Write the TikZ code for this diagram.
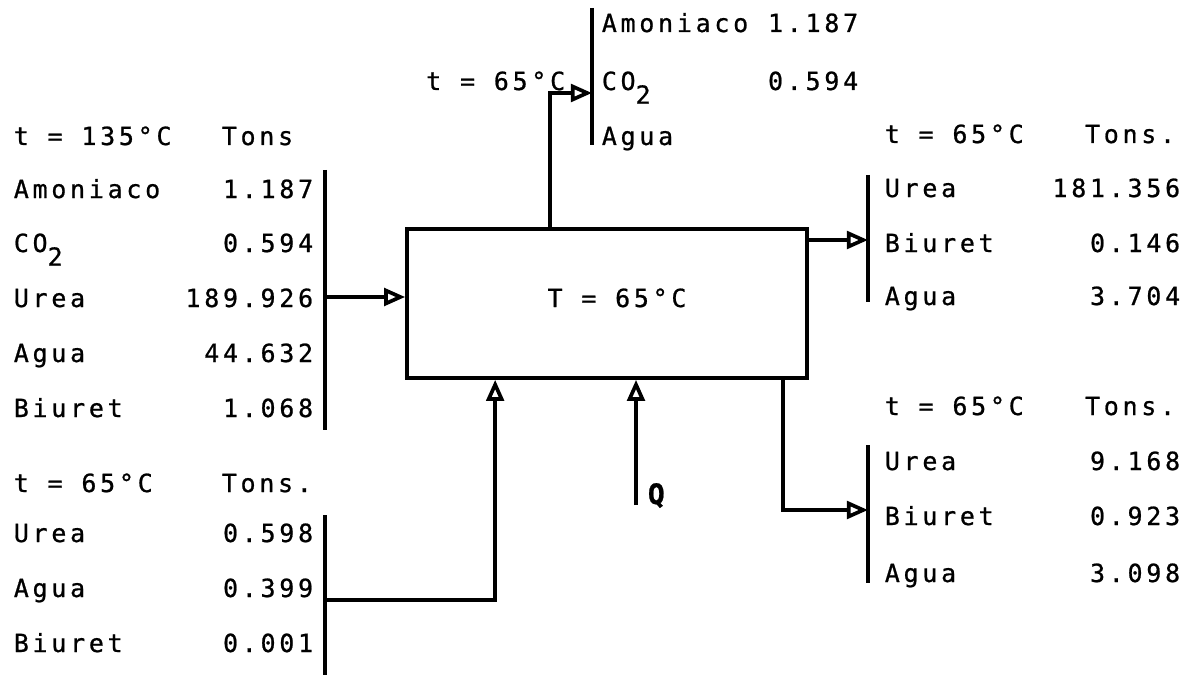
\documentclass[tikz,border=0pt]{standalone}
\usepackage{fontspec}
\usetikzlibrary{arrows.meta,calc}
\newfontfamily\printfont[LetterSpace=15,FakeBold=0.8]{DejaVu Sans Mono}
\newcommand{\cotwo}{CO\raisebox{-.55em}{2}}

\begin{document}
\begin{tikzpicture}[font=\printfont\fontsize{14.2}{16}\selectfont,line width=2.1pt,
  flow/.style={-{Triangle[open,length=12pt,width=10pt]}},
  lab/.style={anchor=base west,inner sep=0pt},
  val/.style={anchor=base east,inner sep=0pt}]
  \useasboundingbox (0,0) rectangle (23.96,13.5);

  % cristalizador
  \node[draw,minimum width=8cm,minimum height=2.98cm,inner sep=0pt] (reactor) at (12.14,7.43) {};
  \node[anchor=base] (temp) at (12.34,7.36) {T = 65°C};

  % alimentacion
  \coordinate (feedtop) at (6.50,10.10);
  \coordinate (feedbot) at (6.50,4.90);
  \coordinate (feedin) at (6.50,7.56);
  \draw (feedtop) -- (feedbot);
  \draw[flow] (feedin) -- (feedin -| reactor.west);
  \node[lab] (feedhead) at (0.24,10.60) {t = 135°C};
  \node[lab] (feedunit) at (4.40,10.60) {Tons};
  \foreach \lab/\val/\y [count=\i] in {Amoniaco/1.187/9.54,{\cotwo}/0.594/8.46,
      Urea/189.926/7.36,Agua/44.632/6.26,Biuret/1.068/5.16}{
    \node[lab] (feedname\i) at (0.24,\y) {\lab};
    \node[val] (feedval\i) at (6.30,\y) {\val};
  }

  % recirculacion
  \coordinate (rectop) at (6.50,3.20);
  \coordinate (recbot) at (6.50,0);
  \coordinate (recin) at (6.50,1.50);
  \draw (rectop) -- (recbot);
  \draw[flow] (recin) -| ($(reactor.south west)+(1.80,0)$);
  \node[lab] (rechead) at (0.24,3.66) {t = 65°C};
  \node[lab] (recunit) at (4.40,3.66) {Tons.};
  \foreach \lab/\val/\y [count=\i] in {Urea/0.598/2.66,Agua/0.399/1.56,Biuret/0.001/0.46}{
    \node[lab] (recname\i) at (0.24,\y) {\lab};
    \node[val] (recval\i) at (6.30,\y) {\val};
  }

  % calor
  \coordinate (qin) at (12.72,3.40);
  \draw[flow] (qin) -- (qin |- reactor.south);
  \node[lab,font=\printfont\fontsize{16}{18}\selectfont] (heat) at (12.92,3.42) {\textbf{Q}};

  % vapores
  \coordinate (vapout) at ($(reactor.north west)+(2.90,0)$);
  \coordinate (vapin) at (11.84,11.64);
  \coordinate (vaptop) at (11.84,13.34);
  \coordinate (vapbot) at (11.84,10.60);
  \draw (vaptop) -- (vapbot);
  \draw[flow] (vapout) |- (vapin);
  \node[val] (vaphead) at (11.34,11.70) {t = 65°C};
  \foreach \lab/\val/\y [count=\i] in {Amoniaco/1.187/12.86,{\cotwo}/0.594/11.70,Agua//10.60}{
    \node[lab] (vapname\i) at (12.00,\y) {\lab};
    \node[val] (vapval\i) at (17.20,\y) {\val};
  }

  % producto
  \coordinate (prodtop) at (17.36,10.00);
  \coordinate (prodbot) at (17.36,7.46);
  \coordinate (prodin) at (17.36,8.70);
  \draw (prodtop) -- (prodbot);
  \draw[flow] (prodin -| reactor.east) -- (prodin);
  \node[lab] (prodhead) at (17.66,10.64) {t = 65°C};
  \node[val] (produnit) at (23.54,10.64) {Tons.};
  \foreach \lab/\val/\y [count=\i] in {Urea/181.356/9.56,Biuret/0.146/8.46,Agua/3.704/7.40}{
    \node[lab] (prodname\i) at (17.66,\y) {\lab};
    \node[val] (prodval\i) at (23.64,\y) {\val};
  }

  % purga
  \coordinate (purgetop) at (17.36,4.60);
  \coordinate (purgebot) at (17.36,1.84);
  \coordinate (purgein) at (17.36,3.30);
  \draw (purgetop) -- (purgebot);
  \draw[flow] ($(reactor.south east)+(-0.52,0)$) |- (purgein);
  \node[lab] (purgehead) at (17.66,5.20) {t = 65°C};
  \node[val] (purgeunit) at (23.54,5.20) {Tons.};
  \foreach \lab/\val/\y [count=\i] in {Urea/9.168/4.10,Biuret/0.923/3.00,Agua/3.098/1.86}{
    \node[lab] (purgename\i) at (17.66,\y) {\lab};
    \node[val] (purgeval\i) at (23.64,\y) {\val};
  }
\end{tikzpicture}
\end{document}
